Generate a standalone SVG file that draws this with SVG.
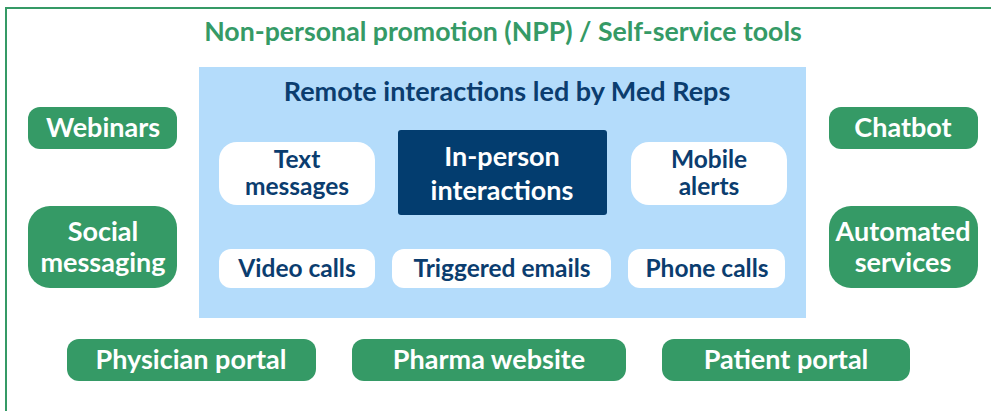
<svg xmlns="http://www.w3.org/2000/svg" width="991" height="411" viewBox="0 0 991 411">
<style>
.g{fill:#359a66}
.w{fill:#ffffff}
.tw{font-family:Lato,"Open Sans",sans-serif;font-weight:700;fill:#ffffff;text-anchor:middle;font-size:27px}
.tb{font-family:Lato,"Open Sans",sans-serif;font-weight:700;fill:#0b3d6f;text-anchor:middle;font-size:24.5px}
.tg{font-family:Lato,"Open Sans",sans-serif;font-weight:700;fill:#359a66;text-anchor:middle}
</style>
<rect x="0" y="0" width="991" height="411" fill="#ffffff"/>
<g id="frame">
<path d="M6,420 L6,8 L1000,8" fill="none" stroke="#359a66" stroke-width="2"/>
<text class="tg" x="503" y="41" font-size="26.7">Non-personal promotion (NPP) / Self-service tools</text>
</g>
<g id="remote">
<rect x="199" y="67" width="607" height="251" fill="#b4dcfb"/>
<text class="tb" x="507" y="101" style="font-size:27px">Remote interactions led by Med Reps</text>
</g>
<g id="text-messages">
<rect x="219" y="142" width="156" height="63" rx="18" class="w"/>
<text class="tb" x="297" y="168">Text</text>
<text class="tb" x="297" y="195">messages</text>
</g>
<g id="in-person">
<rect x="398" y="130" width="209" height="85" rx="3" fill="#033d6f"/>
<text class="tw" x="502" y="166">In-person</text>
<text class="tw" x="502" y="200">interactions</text>
</g>
<g id="mobile-alerts">
<rect x="631" y="142" width="156" height="63" rx="18" class="w"/>
<text class="tb" x="709" y="168">Mobile</text>
<text class="tb" x="709" y="195">alerts</text>
</g>
<g id="video-calls">
<rect x="219" y="249" width="156" height="39" rx="12" class="w"/>
<text class="tb" x="297" y="277">Video calls</text>
</g>
<g id="triggered-emails">
<rect x="392" y="249" width="219" height="39" rx="12" class="w"/>
<text class="tb" x="502" y="277">Triggered emails</text>
</g>
<g id="phone-calls">
<rect x="628" y="249" width="157" height="39" rx="12" class="w"/>
<text class="tb" x="707" y="277">Phone calls</text>
</g>
<g id="webinars">
<rect x="28" y="107" width="149" height="42" rx="12" class="g"/>
<text class="tw" x="103" y="137">Webinars</text>
</g>
<g id="social-messaging">
<rect x="28" y="206" width="149" height="82" rx="22" class="g"/>
<text class="tw" x="103" y="241">Social</text>
<text class="tw" x="103" y="272">messaging</text>
</g>
<g id="chatbot">
<rect x="829" y="107" width="149" height="42" rx="12" class="g"/>
<text class="tw" x="903" y="137">Chatbot</text>
</g>
<g id="automated-services">
<rect x="829" y="206" width="149" height="82" rx="22" class="g"/>
<text class="tw" x="903" y="241">Automated</text>
<text class="tw" x="903" y="272">services</text>
</g>
<g id="physician-portal">
<rect x="67" y="339" width="249" height="42" rx="12" class="g"/>
<text class="tw" x="191" y="369">Physician portal</text>
</g>
<g id="pharma-website">
<rect x="352" y="339" width="274" height="42" rx="12" class="g"/>
<text class="tw" x="489" y="369">Pharma website</text>
</g>
<g id="patient-portal">
<rect x="662" y="339" width="248" height="42" rx="12" class="g"/>
<text class="tw" x="786" y="369">Patient portal</text>
</g>
<g id="connectors"></g>
</svg>
